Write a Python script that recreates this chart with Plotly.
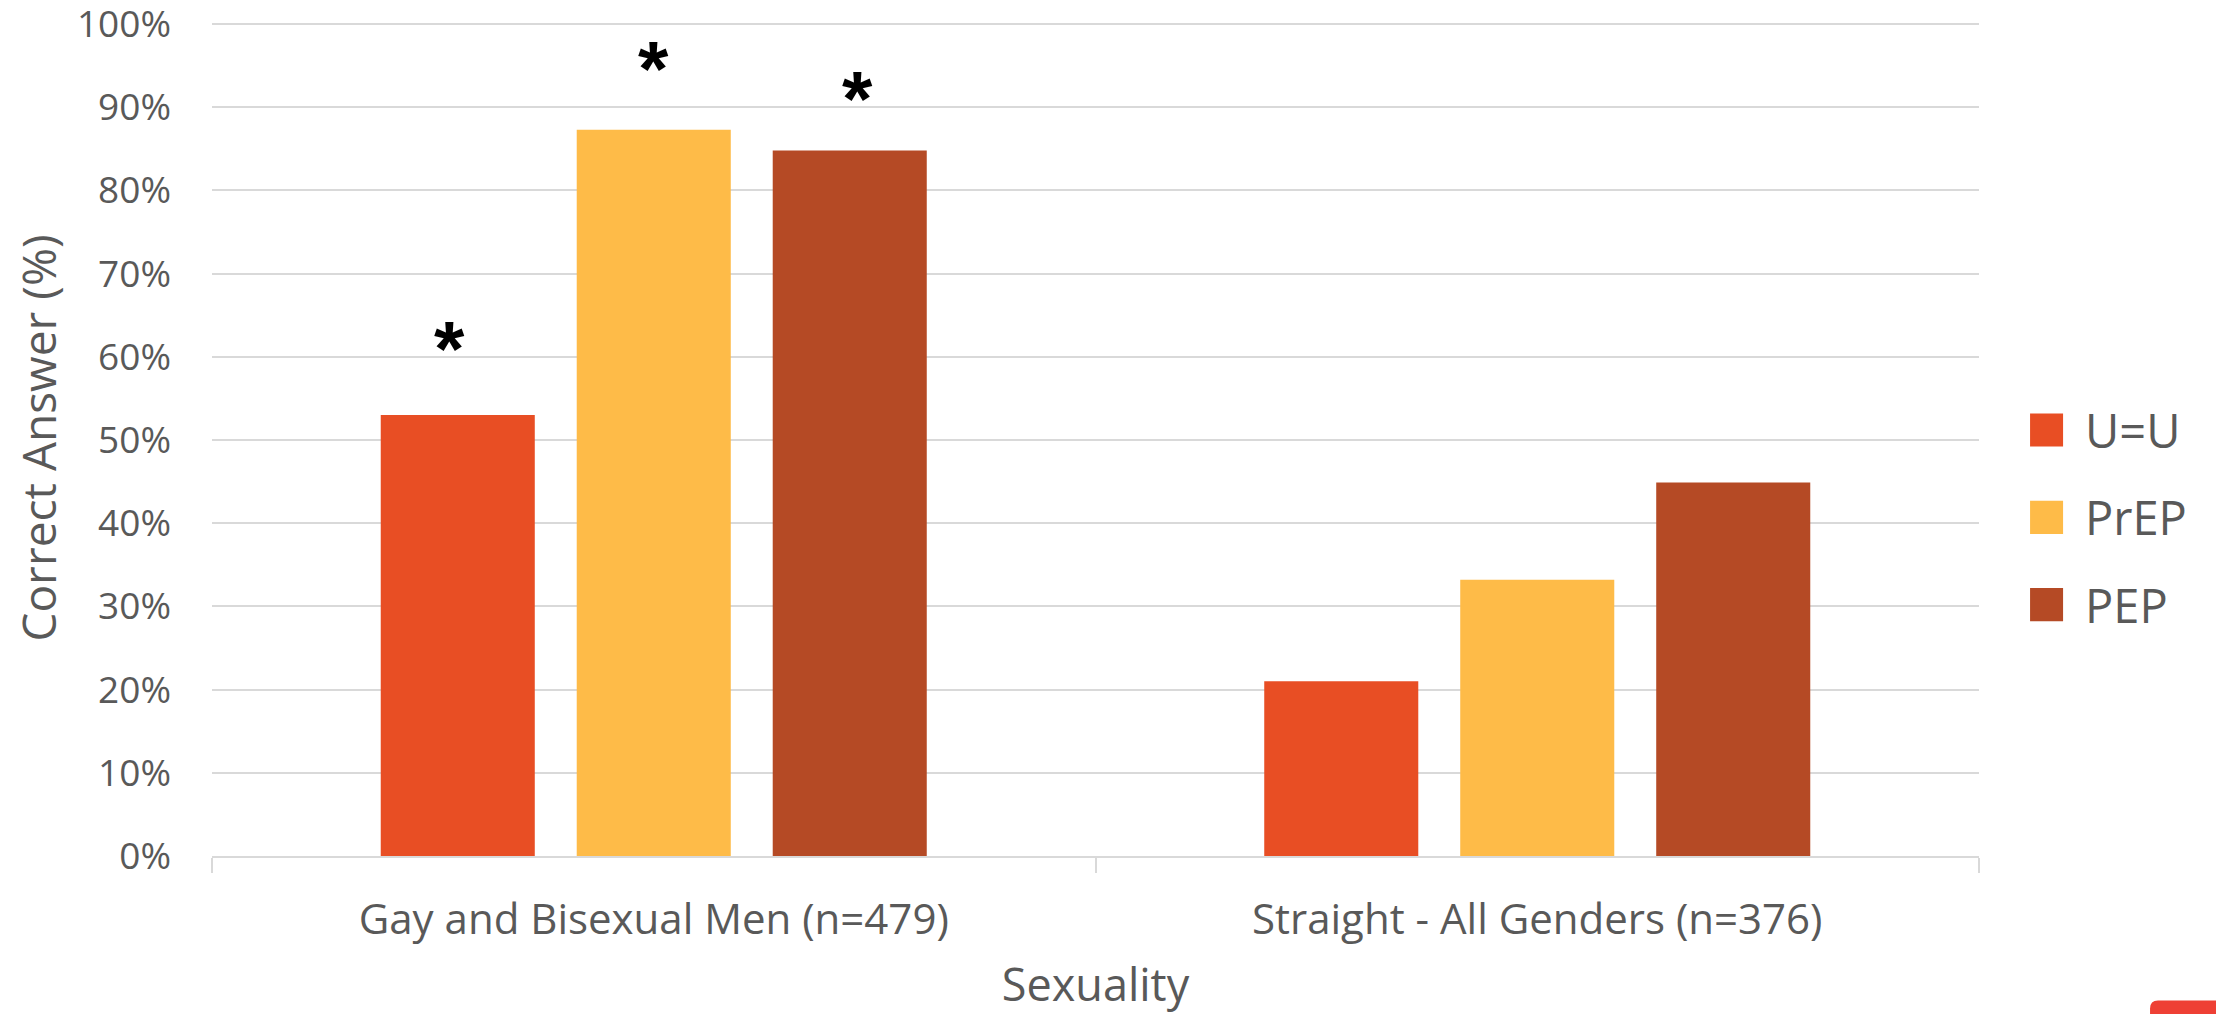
import plotly.graph_objects as go

# Survey results: share of correct answers by sexuality group
categories = ["Gay and Bisexual Men (n=479)", "Straight - All Genders (n=376)"]
series_names = ["U=U", "PrEP", "PEP"]
uu_values = [0.530, 0.210]
prep_values = [0.873, 0.332]
pep_values = [0.848, 0.449]
# significance markers (first group only)
significant = [True, True, True]
y_tick_values = [i / 10 for i in range(11)]

colors = ["#E84E24", "#FEBB48", "#B54A25"]
text_color = "#595959"
grid_color = "#D9D9D9"
font_family = "Open Sans"

BARGAP = 0.3345
GROUPGAP = 0.214
Y_MAX = 1.0036  # a little headroom so the 100% gridline is kept
STAR_LIFT = [0.079, 0.073, 0.062]  # vertical gap between bar top and its asterisk

fig = go.Figure()
all_values = [uu_values, prep_values, pep_values]
for name, vals, col in zip(series_names, all_values, colors):
    fig.add_trace(go.Bar(
        name=name, x=categories, y=vals, marker=dict(color=col, line=dict(width=0)),
        showlegend=False,
    ))

# asterisks above the first group's bars
slot = (1 - BARGAP) / len(series_names)
annotations = []
for i, (vals, sig, lift) in enumerate(zip(all_values, significant, STAR_LIFT)):
    if not sig:
        continue
    annotations.append(dict(
        x=(i - 1) * slot * 1.04, y=vals[0] + lift, xref="x", yref="y",
        text="<b>*</b>", showarrow=False, yanchor="middle", xanchor="center",
        font=dict(family="Liberation Sans", size=78, color="black"),
    ))

# y-axis title
annotations.append(dict(
    x=-0.099, xref="paper", y=0.5, yref="paper", xanchor="center", yanchor="middle",
    text="Correct Answer (%)", textangle=-90, showarrow=False,
    font=dict(family=font_family, size=46, color=text_color),
))

# legend drawn as squares and labels on the right
shapes = []
legend_y = [0.5102, 0.4056, 0.3011]
hx, hy = 0.00934, 0.01983
for name, col, ly in zip(series_names, colors, legend_y):
    shapes.append(dict(type="rect", xref="paper", yref="paper",
                       x0=1.0289, x1=1.0289 + 2 * hx, y0=ly - hy, y1=ly + hy,
                       fillcolor=col, line=dict(width=0)))
    annotations.append(dict(
        x=1.0589, y=ly, xref="paper", yref="paper", xanchor="left", yanchor="middle",
        text=name, showarrow=False, font=dict(family=font_family, size=47, color=text_color),
    ))

# small rounded red tab at the lower right corner
shapes.append(dict(
    type="path", xref="paper", yref="paper",
    path="M 1.0968,-0.195 L 1.0968,-0.1827 Q 1.0968,-0.1731 1.1013,-0.1731 L 1.16,-0.1731 L 1.16,-0.195 Z",
    fillcolor="#EE4035", line=dict(width=0),
))

fig.update_layout(
    width=2216, height=1014,
    margin=dict(l=212, r=237, t=21, b=158, autoexpand=False),
    paper_bgcolor="white", plot_bgcolor="white",
    barmode="group", bargap=BARGAP, bargroupgap=GROUPGAP,
    font=dict(family=font_family, color=text_color),
    showlegend=False,
    annotations=annotations,
    shapes=shapes,
    xaxis=dict(
        type="category", showline=True, linecolor=grid_color, linewidth=1.5,
        ticks="outside", tickson="boundaries", ticklen=15, tickcolor=grid_color, tickwidth=1.5,
        tickfont=dict(family=font_family, size=42, color=text_color),
        ticklabelstandoff=26, automargin=False,
        title=dict(text="Sexuality", font=dict(family=font_family, size=45, color=text_color), standoff=26),
        showgrid=False,
    ),
    yaxis=dict(
        range=[0, Y_MAX], tickvals=y_tick_values, tickformat=".0%",
        showgrid=True, gridcolor=grid_color, gridwidth=1.5,
        zeroline=False, showline=False, ticks="",
        tickfont=dict(family=font_family, size=37, color=text_color),
        ticklabelstandoff=40, ticklabeloverflow="allow", automargin=False,
    ),
)

fig.write_html("out.html")
